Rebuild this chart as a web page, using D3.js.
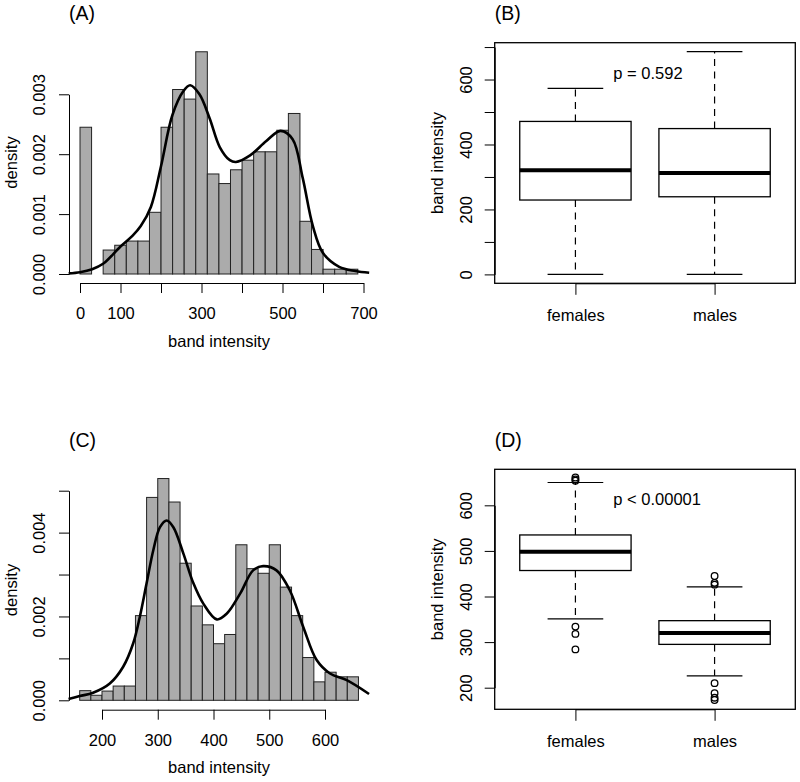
<!DOCTYPE html>
<html>
<head>
<meta charset="utf-8">
<script src="https://cdn.jsdelivr.net/npm/d3@7"></script>
<style>
  body { margin: 0; background: #fff; }
  svg { display: block; font-family: "Liberation Sans", Arial, sans-serif; }
  text { fill: #000; }
</style>
</head>
<body>
<svg id="fig" width="800" height="782"></svg>
<script>
// ---- data ----
// (A) histogram: 24 equal bins from 0 to 686
const histAStart = 0;
const histAEnd = 686;
const histADensity = [0.00245, 0, 0.0004, 0.00048, 0.00055, 0.00055, 0.00103, 0.00245,
  0.00308, 0.00292, 0.00371, 0.00167, 0.00151, 0.00174, 0.0019, 0.00204,
  0.00204, 0.0024, 0.00268, 0.00088, 0.00041, 0.00008, 0.00008, 0.00008];
const kdeAX = [-28, 0, 30, 57, 100, 130, 150, 175, 200, 228, 255, 272, 295, 320,
  345, 370, 385, 420, 460, 495, 525, 550, 575, 600, 640, 680, 714];
const kdeAY = [0.00001, 0.00003, 0.00008, 0.00017, 0.00046, 0.00064, 0.0008, 0.00112,
  0.0018, 0.00265, 0.00305, 0.00315, 0.003, 0.0026, 0.00212, 0.0019, 0.00187,
  0.00198, 0.00222, 0.00239, 0.00225, 0.0016, 0.0008, 0.00035, 0.00012, 0.00005, 0.00002];
const histATicks = [0, 100, 200, 300, 400, 500, 600, 700];
const histALabels = [0, 100, 300, 500, 700];
const densATicks = [0, 0.001, 0.002, 0.003];

// (C) histogram: bins of 20 from 160 to 660
const histCStart = 160;
const histCWidth = 20;
const histCDensity = [0.00023, 0.00012, 0.00022, 0.00034, 0.00034, 0.00202, 0.00484,
  0.00529, 0.00473, 0.00327, 0.00225, 0.0018, 0.00135, 0.00157, 0.00371, 0.00314,
  0.00303, 0.00371, 0.0027, 0.00202, 0.00102, 0.00044, 0.00067, 0.00056, 0.00056];
const kdeCX = [140, 160, 184, 214, 238, 256, 268, 280, 292, 304, 316, 328, 346, 364,
  382, 406, 424, 448, 471, 489, 513, 537, 561, 585, 609, 639, 679];
const kdeCY = [0.00003, 0.0001, 0.00018, 0.0004, 0.0008, 0.00136, 0.002, 0.00279, 0.00358,
  0.00413, 0.00429, 0.00413, 0.0035, 0.00279, 0.0023, 0.00193, 0.00207, 0.00255,
  0.0031, 0.0032, 0.0031, 0.00262, 0.00175, 0.00096, 0.00064, 0.00048, 0.00015];
const histCTicks = [200, 300, 400, 500, 600];
const densCTicks = [0, 0.001, 0.002, 0.003, 0.004, 0.005];
const densCLabels = [0, 0.002, 0.004];

// boxplots
const groups = ["females", "males"];
// (B)
const bLower = [0, 0];
const bQ1 = [229, 239];
const bMedian = [321, 312];
const bQ3 = [471, 449];
const bUpper = [573, 686];
const bOutliers = [[], []];
const bTicks = [0, 100, 200, 300, 400, 500, 600, 700];
const bLabels = [0, 200, 400, 600];
const bPText = "p = 0.592";
// (D)
const dLower = [351, 226];
const dQ1 = [457, 295];
const dMedian = [498, 320];
const dQ3 = [535, 347];
const dUpper = [650, 421];
const dOutliers = [[661, 657, 654, 334, 318, 284], [445, 430, 426, 210, 188, 178, 173]];
const dTicks = [200, 300, 400, 500, 600];
const dPText = "p < 0.00001";

const FS = "16.5px";
const FONT = '"Liberation Sans", Arial, sans-serif';
const svg = d3.select("#fig");

function panelLabel(txt, x, y) {
  svg.append("text").attr("x", x).attr("y", y).style("font-size", "19.5px").text(txt);
}

function styleAxis(g) {
  g.attr("font-family", FONT);
  g.selectAll("path, line").attr("stroke", "#000").attr("stroke-width", 1);
  g.selectAll("text").style("font-size", FS).attr("fill", "#000");
}

function rotLabel(txt, x, y) {
  svg.append("text")
    .attr("transform", `translate(${x},${y}) rotate(-90)`)
    .attr("text-anchor", "middle")
    .style("font-size", FS)
    .text(txt);
}

function drawHist(opts) {
  const { edges, dens, kx, ky, x, y, xTicks, xLabels, yTicks, yLabels, xAxisY, yAxisX, xLabY } = opts;

  // bars
  svg.append("g")
    .selectAll("rect")
    .data(dens)
    .join("rect")
    .attr("x", (d, i) => x(edges[i]))
    .attr("width", (d, i) => x(edges[i + 1]) - x(edges[i]))
    .attr("y", (d) => y(d))
    .attr("height", (d) => y(0) - y(d))
    .attr("fill", "#ababab")
    .attr("stroke", "#222")
    .attr("stroke-width", 1);

  // density curve
  const line = d3.line()
    .x((d) => x(d[0]))
    .y((d) => y(d[1]))
    .curve(d3.curveCatmullRom.alpha(0.5));
  svg.append("path")
    .datum(kx.map((v, i) => [v, ky[i]]))
    .attr("fill", "none")
    .attr("stroke", "#000")
    .attr("stroke-width", 2.6)
    .attr("d", line);

  // x axis
  const gx = svg.append("g")
    .attr("transform", `translate(0,${xAxisY})`)
    .call(d3.axisBottom(x).tickValues(xTicks).tickSize(10).tickSizeOuter(0)
      .tickFormat((d) => (xLabels.includes(d) ? d : "")));
  styleAxis(gx);
  gx.selectAll(".tick text").attr("y", xLabY).attr("dy", 0);

  // y axis
  const gy = svg.append("g")
    .attr("transform", `translate(${yAxisX},0)`)
    .call(d3.axisLeft(y).tickValues(yTicks).tickSize(10).tickSizeOuter(0)
      .tickFormat((d) => (yLabels.some((v) => Math.abs(v - d) < 1e-9) ? d3.format(".3f")(d) : "")));
  styleAxis(gy);
  gy.selectAll(".tick text")
    .attr("transform", "rotate(-90)")
    .attr("x", 0).attr("y", -24).attr("dy", 0)
    .attr("text-anchor", "middle");
}

// ---- (A) ----
panelLabel("(A)", 69, 20);
const xA = d3.scaleLinear().domain([0, 700]).range([80, 363.5]);
const yA = d3.scaleLinear().domain([0, 0.003]).range([274, 94.3]);
const nA = histADensity.length;
const edgesA = d3.range(nA + 1).map((i) => histAStart + (i * (histAEnd - histAStart)) / nA);
drawHist({
  edges: edgesA, dens: histADensity, kx: kdeAX, ky: kdeAY, x: xA, y: yA,
  xTicks: histATicks, xLabels: histALabels, yTicks: densATicks, yLabels: densATicks,
  xAxisY: 283, yAxisX: 69, xLabY: 36.3
});
svg.append("text").attr("x", 219).attr("y", 347).attr("text-anchor", "middle")
  .style("font-size", FS).text("band intensity");
rotLabel("density", 17, 162.5);

// ---- (C) ----
panelLabel("(C)", 69, 447);
const xC = d3.scaleLinear().domain([200, 600]).range([102, 325]);
const yC = d3.scaleLinear().domain([0, 0.005]).range([700.3, 490.7]);
const edgesC = d3.range(histCDensity.length + 1).map((i) => histCStart + i * histCWidth);
drawHist({
  edges: edgesC, dens: histCDensity, kx: kdeCX, ky: kdeCY, x: xC, y: yC,
  xTicks: histCTicks, xLabels: histCTicks, yTicks: densCTicks, yLabels: densCLabels,
  xAxisY: 709.7, yAxisX: 69, xLabY: 36.8
});
svg.append("text").attr("x", 219).attr("y", 773).attr("text-anchor", "middle")
  .style("font-size", FS).text("band intensity");
rotLabel("density", 17, 590);

// ---- boxplots ----
function drawBox(opts) {
  const { top, bottom, yDomain, lower, q1, med, q3, upper, outliers, yTicks, yLabels, pText, pY } = opts;
  const left = 494.7, right = 795.3;
  const x = d3.scaleLinear().domain([0.42, 2.58]).range([left, right]);
  const y = d3.scaleLinear().domain(yDomain).range([bottom, top]);
  const half = 0.4, capHalf = 0.2;

  const stats = groups.map((g, i) => ({
    pos: i + 1, lo: lower[i], q1: q1[i], med: med[i], q3: q3[i], hi: upper[i], out: outliers[i]
  }));

  const g = svg.append("g");
  const box = g.selectAll("g.box").data(stats).join("g").attr("class", "box");

  // whiskers (dashed)
  box.append("line")
    .attr("x1", (d) => x(d.pos)).attr("x2", (d) => x(d.pos))
    .attr("y1", (d) => y(d.q3)).attr("y2", (d) => y(d.hi))
    .attr("stroke", "#000").attr("stroke-width", 1.2).attr("stroke-dasharray", "7,5.5");
  box.append("line")
    .attr("x1", (d) => x(d.pos)).attr("x2", (d) => x(d.pos))
    .attr("y1", (d) => y(d.q1)).attr("y2", (d) => y(d.lo))
    .attr("stroke", "#000").attr("stroke-width", 1.2).attr("stroke-dasharray", "7,5.5");
  // caps
  ["hi", "lo"].forEach((k) => {
    box.append("line")
      .attr("x1", (d) => x(d.pos - capHalf)).attr("x2", (d) => x(d.pos + capHalf))
      .attr("y1", (d) => y(d[k])).attr("y2", (d) => y(d[k]))
      .attr("stroke", "#000").attr("stroke-width", 1.2);
  });
  // boxes
  box.append("rect")
    .attr("x", (d) => x(d.pos - half))
    .attr("width", (d) => x(d.pos + half) - x(d.pos - half))
    .attr("y", (d) => y(d.q3))
    .attr("height", (d) => y(d.q1) - y(d.q3))
    .attr("fill", "#fff").attr("stroke", "#000").attr("stroke-width", 1.3);
  // medians
  box.append("line")
    .attr("x1", (d) => x(d.pos - half)).attr("x2", (d) => x(d.pos + half))
    .attr("y1", (d) => y(d.med)).attr("y2", (d) => y(d.med))
    .attr("stroke", "#000").attr("stroke-width", 4);
  // outliers
  box.selectAll("circle")
    .data((d) => d.out.map((v) => ({ pos: d.pos, v })))
    .join("circle")
    .attr("cx", (d) => x(d.pos)).attr("cy", (d) => y(d.v)).attr("r", 3.3)
    .attr("fill", "none").attr("stroke", "#000").attr("stroke-width", 1.3);

  // frame
  g.append("rect")
    .attr("x", left).attr("y", top).attr("width", right - left).attr("height", bottom - top)
    .attr("fill", "none").attr("stroke", "#000").attr("stroke-width", 1.3);

  // axes
  const ya = y.copy().domain([yTicks[0], yTicks[yTicks.length - 1]])
    .range([y(yTicks[0]), y(yTicks[yTicks.length - 1])]);
  const gy = svg.append("g").attr("transform", `translate(${left},0)`)
    .call(d3.axisLeft(ya).tickValues(yTicks).tickSize(10).tickSizeOuter(0)
      .tickFormat((d) => (yLabels.includes(d) ? d : "")));
  styleAxis(gy);
  gy.selectAll(".tick text")
    .attr("transform", "rotate(-90)")
    .attr("x", 0).attr("y", -23).attr("dy", 0)
    .attr("text-anchor", "middle");

  const xa = x.copy().domain([1, 2]).range([x(1), x(2)]);
  const gx = svg.append("g").attr("transform", `translate(0,${bottom})`)
    .call(d3.axisBottom(xa).tickValues([1, 2]).tickSize(11.5).tickSizeOuter(0)
      .tickFormat((d) => groups[d - 1]));
  styleAxis(gx);
  gx.selectAll(".tick text").attr("y", 37.4).attr("dy", 0);

  rotLabel("band intensity", 443, (top + bottom) / 2);
  svg.append("text").attr("x", 613.3).attr("y", pY).style("font-size", FS).text(pText);
}

panelLabel("(B)", 494.7, 20);
drawBox({
  top: 42.7, bottom: 283.3, yDomain: [-27.4, 713.4],
  lower: bLower, q1: bQ1, med: bMedian, q3: bQ3, upper: bUpper, outliers: bOutliers,
  yTicks: bTicks, yLabels: bLabels, pText: bPText, pY: 79
});

panelLabel("(D)", 494.7, 447);
drawBox({
  top: 469.3, bottom: 709.3, yDomain: [152.6, 679],
  lower: dLower, q1: dQ1, med: dMedian, q3: dQ3, upper: dUpper, outliers: dOutliers,
  yTicks: dTicks, yLabels: dTicks, pText: dPText, pY: 505.3
});
</script>
</body>
</html>
